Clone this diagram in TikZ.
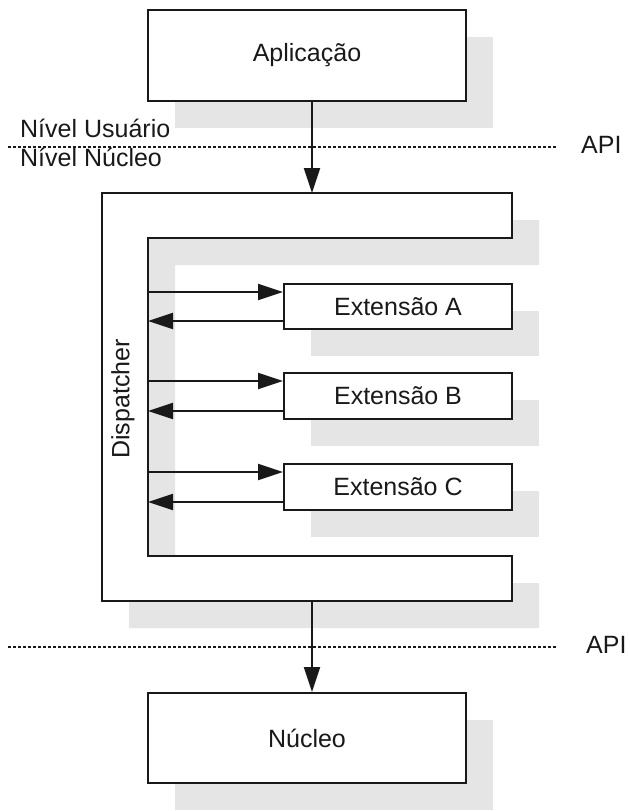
\documentclass[tikz,border=0pt]{standalone}
\usepackage{fontspec}
\setmainfont{Liberation Sans}
\usetikzlibrary{arrows.meta,shadows,calc}
\definecolor{shade}{RGB}{229,229,229}
\definecolor{ink}{RGB}{25,25,25}
\begin{document}
\begin{tikzpicture}[x=1bp,y=-1bp,
  every node/.style={font=\fontsize{25bp}{30bp}\selectfont, text=ink},
  sh/.style={drop shadow={shadow xshift=27bp,shadow yshift=-27bp,fill=shade,opacity=1}},
  box/.style={draw=ink, line width=2bp, fill=white, sh, inner sep=0pt},
  cshape/.style={draw=ink, line width=2bp, fill=white, sh},
  arr/.style={draw=ink, line width=2bp, -{Triangle[length=25bp,width=16bp]}},
  apiline/.style={draw=ink, line width=1.3bp, dash pattern=on 3bp off 2bp},
  lbl/.style={anchor=base west, inner sep=0pt}]
\useasboundingbox[fill=white] (0,0) rectangle (630,811);

% API lines
\coordinate (l1a) at (8,147);
\coordinate (l1b) at (557,147);
\coordinate (l2a) at (8,647);
\coordinate (l2b) at (557,647);
\draw[apiline] (l1a) -- (l1b);
\draw[apiline] (l2a) -- (l2b);

% labels
\node[lbl] (nu) at (20,137) {Nível Usuário};
\node[lbl] (nn) at (20,166) {Nível Núcleo};
\node[lbl] (api1) at (581,153) {API};
\node[lbl] (api2) at (586,653) {API};

% application
\node[box, minimum width=318bp, minimum height=91bp] (app) at (307,55.5) {Aplicação};

% dispatcher C-shape
\draw[cshape] (102,193) -- (512,193) -- (512,238) -- (148,238) -- (148,556)
  -- (512,556) -- (512,601) -- (102,601) -- cycle;
\node[rotate=90, inner sep=0pt] (disp) at (123,399) {Dispatcher};
\coordinate (dtop) at (312,193);
\coordinate (dbot) at (312,601);
\coordinate (din) at (148,397);

% extensions
\node[box, minimum width=228bp, minimum height=45bp] (extA) at (398,306.5) {Extensão A};
\node[box, minimum width=228bp, minimum height=46bp] (extB) at (398,396) {Extensão B};
\node[box, minimum width=228bp, minimum height=46bp] (extC) at (398,487) {Extensão C};

% kernel
\node[box, minimum width=318bp, minimum height=90bp] (nuc) at (307,738) {Núcleo};

% vertical arrows
\draw[arr] (app.south -| dtop) -- (dtop);
\draw[arr] (dbot) -- (nuc.north -| dbot);

% extension arrows
\foreach \e in {A,B,C}{
  \coordinate (\e in) at ($(ext\e.north west)+(0,9)$);
  \coordinate (\e out) at ($(ext\e.south west)+(0,-9)$);
  \draw[arr] (din |- \e in) -- (\e in);
  \draw[arr] (\e out) -- (din |- \e out);
}
\end{tikzpicture}
\end{document}
